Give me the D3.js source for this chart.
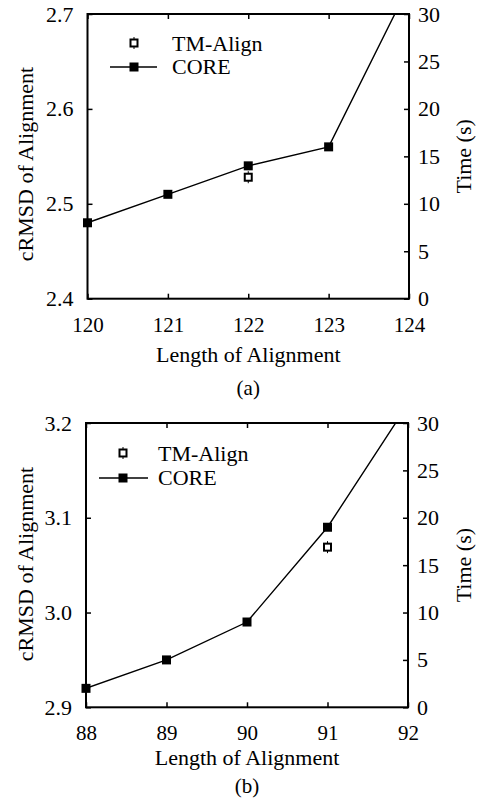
<!DOCTYPE html>
<html>
<head>
<meta charset="utf-8">
<script src="https://cdn.jsdelivr.net/npm/d3@7"></script>
<style>
  html, body { margin: 0; padding: 0; background: #fff; }
  svg { display: block; }
  svg text { font-family: "Liberation Serif", "Times New Roman", Tinos, Times, "DejaVu Serif", "Noto Serif", serif !important; fill: #000; }
</style>
</head>
<body>
<svg id="chart" width="480" height="800"></svg>
<script>
// ---- Panel (a) data ----
const lengthsA = [120, 121, 122, 123, 124];
const coreA = [2.48, 2.51, 2.54, 2.56, 2.73];
const tmLengthsA = [122];
const tmA = [2.528];
const xTicksA = [120, 121, 122, 123, 124];
const yTicksA = [2.4, 2.5, 2.6, 2.7];

// ---- Panel (b) data ----
const lengthsB = [88, 89, 90, 91, 92];
const coreB = [2.92, 2.95, 2.99, 3.09, 3.22];
const tmLengthsB = [91];
const tmB = [3.069];
const xTicksB = [88, 89, 90, 91, 92];
const yTicksB = [2.9, 3.0, 3.1, 3.2];

// ---- shared right axis ----
const timeTicks = [0, 5, 10, 15, 20, 25, 30];

const legendLabels = ["TM-Align", "CORE"];
const xTitle = "Length of Alignment";
const yTitle = "cRMSD of Alignment";
const y2Title = "Time (s)";

const FONT = '"Liberation Serif", "Times New Roman", Tinos, Times, "DejaVu Serif", serif';
const svg = d3.select("#chart");

function panel(cfg) {
  const { left, right, top, bottom, id } = cfg;
  const g = svg.append("g").attr("font-family", FONT);
  const x = d3.scaleLinear().domain(d3.extent(cfg.xTicks)).range([left, right]);
  const y = d3.scaleLinear().domain(d3.extent(cfg.yTicks)).range([bottom, top]);
  const y2 = d3.scaleLinear().domain(d3.extent(timeTicks)).range([bottom, top]);
  const tk = 5;

  g.append("clipPath").attr("id", "clip" + id)
    .append("rect").attr("x", left).attr("y", top)
    .attr("width", right - left).attr("height", bottom - top);

  const bx = g.append("g").attr("transform", `translate(0,${bottom})`)
    .call(d3.axisBottom(x).tickValues(cfg.xTicks).tickSize(-tk).tickPadding(18).tickFormat(d3.format("d")));
  const tx = g.append("g").attr("transform", `translate(0,${top})`)
    .call(d3.axisTop(x).tickValues(cfg.xTicks).tickSize(-tk).tickFormat(""));
  const lx = g.append("g").attr("transform", `translate(${left},0)`)
    .call(d3.axisLeft(y).tickValues(cfg.yTicks).tickSize(-tk).tickPadding(14).tickFormat(d3.format(".1f")));
  const rx = g.append("g").attr("transform", `translate(${right},0)`)
    .call(d3.axisRight(y2).tickValues(timeTicks).tickSize(-tk).tickPadding(9).tickFormat(d3.format("d")));

  [bx, tx, lx, rx].forEach(a => {
    a.attr("font-family", FONT);
    a.select(".domain").remove();
    a.selectAll(".tick line").attr("stroke", "#000").attr("stroke-width", 1.5);
    a.selectAll("text").attr("font-size", 21).style("font-family", FONT);
  });
  lx.selectAll("text").attr("font-size", 22);
  rx.selectAll("text").attr("font-size", 22);

  g.append("rect").attr("x", left).attr("y", top)
    .attr("width", right - left).attr("height", bottom - top)
    .attr("fill", "none").attr("stroke", "#000").attr("stroke-width", 2);

  const core = cfg.lengths.map((d, i) => ({ x: d, y: cfg.core[i] }));
  const line = d3.line().x(d => x(d.x)).y(d => y(d.y));
  const plot = g.append("g").attr("clip-path", `url(#clip${id})`);
  plot.append("path").datum(core).attr("d", line)
    .attr("fill", "none").attr("stroke", "#000").attr("stroke-width", 1.4);
  const ms = 9;
  g.append("g").selectAll("rect").data(core.filter(d => d.y <= cfg.yTicks[cfg.yTicks.length - 1]))
    .join("rect")
    .attr("x", d => x(d.x) - ms / 2).attr("y", d => y(d.y) - ms / 2)
    .attr("width", ms).attr("height", ms).attr("fill", "#000");

  const tm = cfg.tmLengths.map((d, i) => ({ x: d, y: cfg.tm[i] }));
  function tmMarker(sel, cx, cy) {
    sel.append("rect").attr("x", cx - 3.5).attr("y", cy - 3.5).attr("width", 7).attr("height", 7)
      .attr("fill", "#fff").attr("stroke", "#000").attr("stroke-width", 2);
    sel.append("line").attr("x1", cx).attr("x2", cx).attr("y1", cy - 6).attr("y2", cy - 3.5)
      .attr("stroke", "#000").attr("stroke-width", 1);
    sel.append("line").attr("x1", cx).attr("x2", cx).attr("y1", cy + 3.5).attr("y2", cy + 6)
      .attr("stroke", "#000").attr("stroke-width", 1);
  }
  tm.forEach(d => tmMarker(g.append("g"), x(d.x), y(d.y)));

  const L = cfg.legend;
  const txt = (sel) => sel.style("font-family", FONT);
  tmMarker(g.append("g"), L.mx, L.y1);
  g.append("text").attr("x", L.tx).attr("y", L.y1 + 8).attr("font-size", 22).call(txt).text(legendLabels[0]);
  g.append("line").attr("x1", L.lx1).attr("x2", L.lx2).attr("y1", L.y2).attr("y2", L.y2)
    .attr("stroke", "#000").attr("stroke-width", 1.4);
  g.append("rect").attr("x", L.mx - ms / 2).attr("y", L.y2 - ms / 2).attr("width", ms).attr("height", ms).attr("fill", "#000");
  g.append("text").attr("x", L.tx).attr("y", L.y2 + 7).attr("font-size", 22).call(txt).text(legendLabels[1]);

  g.append("text").attr("x", (left + right) / 2).attr("y", cfg.xTitleY)
    .attr("text-anchor", "middle").attr("font-size", 22).call(txt).text(xTitle);
  g.append("text").attr("transform", `translate(33,${cfg.yTitleC}) rotate(-90)`)
    .attr("text-anchor", "middle").attr("font-size", 22).call(txt).text(yTitle);
  g.append("text").attr("transform", `translate(471,${(top + bottom) / 2}) rotate(-90)`)
    .attr("text-anchor", "middle").attr("font-size", 22).call(txt).text(y2Title);
  g.append("text").attr("x", (left + right) / 2).attr("y", cfg.capY)
    .attr("text-anchor", "middle").attr("font-size", 21).call(txt).text(cfg.caption);
}

panel({
  id: "a", left: 87.5, right: 409, top: 14, bottom: 298.7,
  xTicks: xTicksA, yTicks: yTicksA, lengths: lengthsA, core: coreA,
  tmLengths: tmLengthsA, tm: tmA,
  legend: { mx: 134, y1: 43, tx: 172, lx1: 110, lx2: 157, y2: 67 },
  xTitleY: 362, yTitleC: 164, capY: 395, caption: "(a)"
});
panel({
  id: "b", left: 86, right: 408, top: 423, bottom: 707.3,
  xTicks: xTicksB, yTicks: yTicksB, lengths: lengthsB, core: coreB,
  tmLengths: tmLengthsB, tm: tmB,
  legend: { mx: 123, y1: 453, tx: 158, lx1: 99, lx2: 148, y2: 478 },
  xTitleY: 765, yTitleC: 564, capY: 793, caption: "(b)"
});
</script>
</body>
</html>
